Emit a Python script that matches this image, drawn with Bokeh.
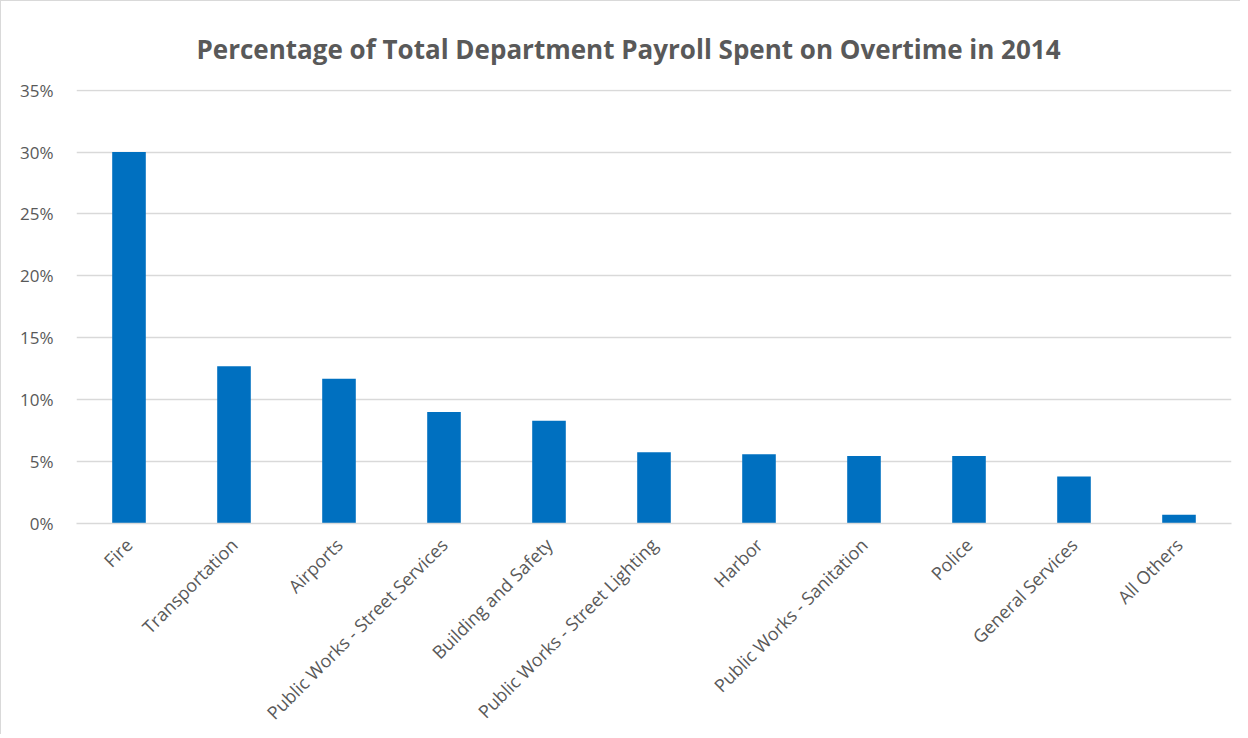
from bokeh.plotting import figure
from bokeh.models import FactorRange, Range1d, PrintfTickFormatter, FixedTicker, ColumnDataSource
from bokeh.embed import file_html
from bokeh.resources import INLINE
import math

departments = ["Fire", "Transportation", "Airports", "Public Works - Street Services",
               "Building and Safety", "Public Works - Street Lighting", "Harbor",
               "Public Works - Sanitation", "Police", "General Services", "All Others"]
overtime_pct = [30.0, 12.7, 11.7, 9.0, 8.3, 5.75, 5.6, 5.45, 5.45, 3.8, 0.7]
y_ticks = [0, 5, 10, 15, 20, 25, 30, 35]
title_text = "Percentage of Total Department Payroll Spent on Overtime in 2014"

src = ColumnDataSource(dict(dept=departments, pct=overtime_pct))

FONT = "Open Sans"
GRAY = "#595959"

p = figure(width=1240, height=734, output_backend="svg", toolbar_location=None,
           x_range=FactorRange(*departments, range_padding=0),
           y_range=Range1d(0, 35.05),
           min_border_left=75, min_border_right=10, min_border_top=88, min_border_bottom=211,
           title=title_text)
p.styles = {"border-left": "1px solid #d9d9d9", "border-top": "1px solid #d9d9d9"}

p.vbar(x="dept", top="pct", width=0.32, source=src, fill_color="#0070C0", line_color=None)

p.title.text_font = FONT
p.title.text_font_size = "26px"
p.title.text_font_style = "bold"
p.title.text_color = GRAY
p.title.align = "left"
p.title.offset = 120
p.title.standoff = 46

p.outline_line_color = None
p.background_fill_color = "white"
p.border_fill_color = "white"

p.xgrid.grid_line_color = None
p.ygrid.grid_line_color = "#d9d9d9"
p.ygrid.grid_line_width = 1.3

p.yaxis.ticker = FixedTicker(ticks=y_ticks)
p.yaxis.formatter = PrintfTickFormatter(format="%d%%")
p.yaxis.axis_line_color = None
p.yaxis.major_tick_line_color = None
p.yaxis.minor_tick_line_color = None
p.yaxis.major_label_standoff = 17
p.yaxis.major_label_text_font = FONT
p.yaxis.major_label_text_font_size = "17px"
p.yaxis.major_label_text_color = GRAY

p.xaxis.axis_line_color = "#d9d9d9"
p.xaxis.axis_line_width = 1.3
p.xaxis.major_tick_line_color = None
p.xaxis.minor_tick_line_color = None
p.xaxis.major_label_orientation = math.pi / 4
p.xaxis.major_label_standoff = 12
p.xaxis.major_label_text_font = FONT
p.xaxis.major_label_text_font_size = "18px"
p.xaxis.major_label_text_color = GRAY

open("out.html", "w").write(file_html(p, INLINE))
